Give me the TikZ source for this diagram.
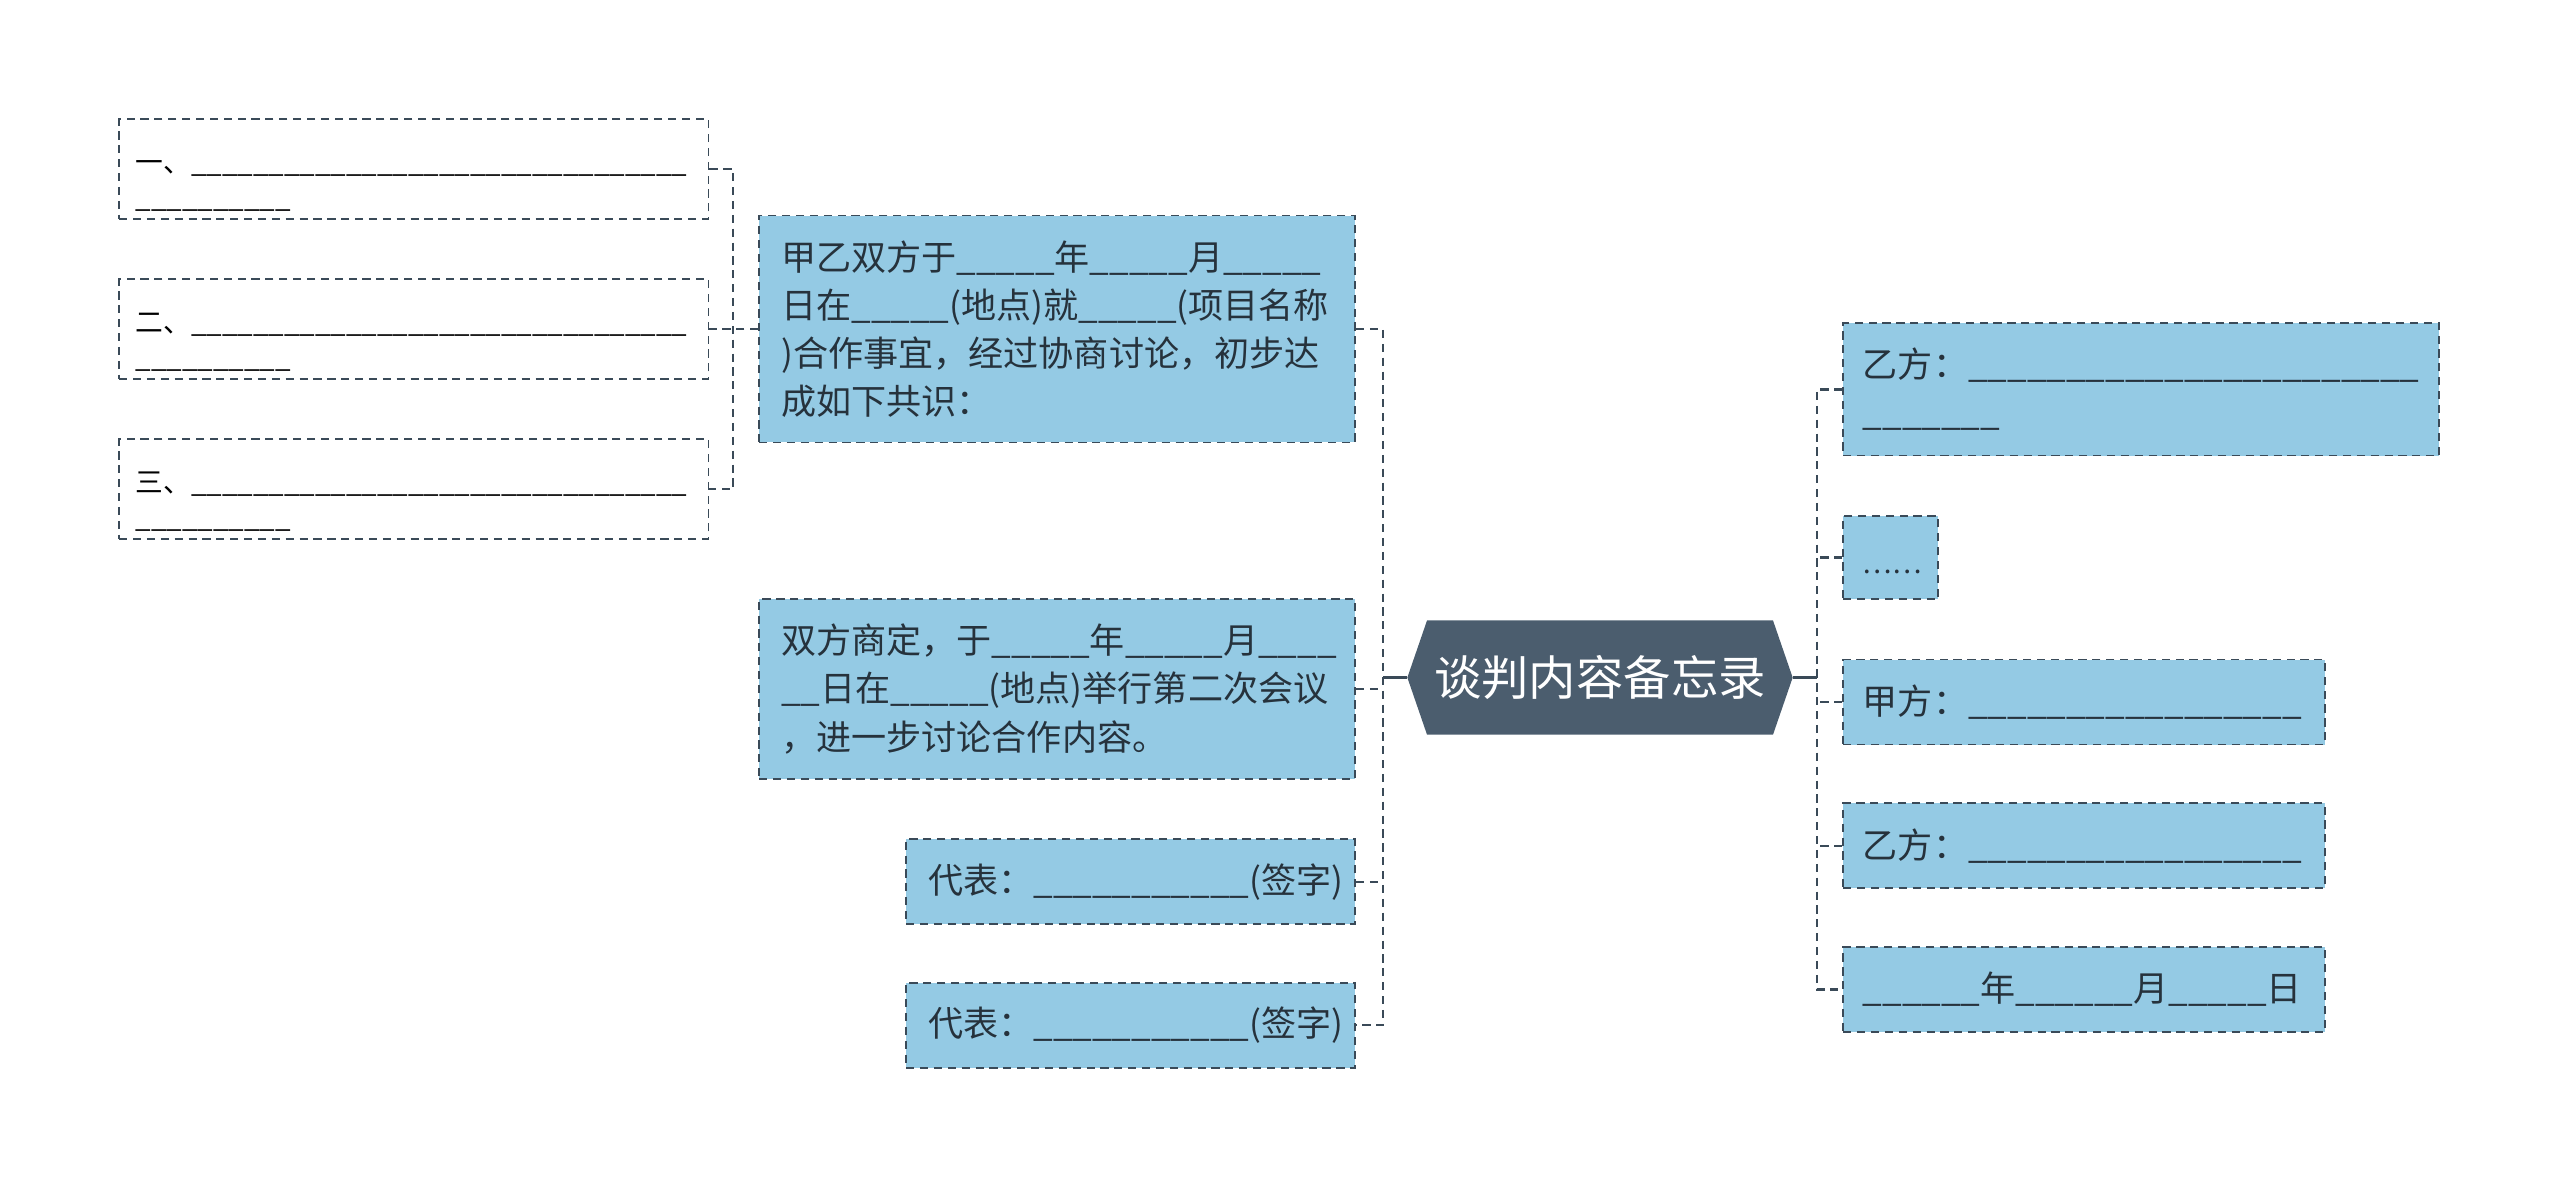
\documentclass[tikz,border=0pt]{standalone}
\usepackage{fontspec}
\setmainfont{Noto Sans CJK SC}
\usetikzlibrary{shapes.symbols}
\definecolor{boxblue}{HTML}{94CAE4}
\definecolor{darkline}{HTML}{3A4A58}
\definecolor{hexfill}{HTML}{4B5D6E}
\definecolor{txt}{HTML}{26323C}
\ExplSyntaxOn
\cs_new:Npn \myblank #1 { \prg_replicate:nn {#1} {\_} }
\ExplSyntaxOff
\newcommand\bodyfont{\fontsize{21.5}{29.5}\selectfont}
\newcommand\smallfont{\fontsize{17}{21.8}\selectfont}
\newcommand\toppad{\rule{0pt}{28pt}}
\begin{document}
\begin{tikzpicture}[x=1pt,y=-1pt,
  box/.style={draw=darkline, line width=1.1pt, dash pattern=on 5pt off 3.5pt,
    fill=boxblue, text=txt, inner ysep=0pt, align=left, anchor=center, font=\bodyfont},
  wbox/.style={box, fill=white, font=\smallfont, text=black},
  conn/.style={draw=darkline, line width=1.4pt, dash pattern=on 5pt off 3.5pt},
  solidconn/.style={draw=darkline, line width=1.6pt}]
\useasboundingbox (0,0) rectangle (1568,728);

% left boxes
\node[wbox, text width=341pt, inner xsep=10pt, minimum height=61pt] (L1) at (253.5,103.5)
  {\toppad 一、\myblank{32}\\\myblank{10}};
\node[wbox, text width=341pt, inner xsep=10pt, minimum height=61pt] (L2) at (253.5,201.5)
  {\toppad 二、\myblank{32}\\\myblank{10}};
\node[wbox, text width=341pt, inner xsep=10pt, minimum height=61pt] (L3) at (253.5,299.5)
  {\toppad 三、\myblank{32}\\\myblank{10}};

% middle boxes
\node[box, text width=338pt, inner xsep=13.5pt, minimum height=139pt] (A) at (647.5,201.5)
  {甲乙双方于\myblank{5}年\myblank{5}月\myblank{5}\\
   日在\myblank{5}(地点)就\myblank{5}(项目名称\\
   )合作事宜，经过协商讨论，初步达\\
   成如下共识：};
\node[box, text width=338pt, inner xsep=13.5pt, minimum height=110pt] (B) at (647.5,422)
  {双方商定，于\myblank{5}年\myblank{5}月\myblank{4}\\
   \myblank{2}日在\myblank{5}(地点)举行第二次会议\\
   ，进一步讨论合作内容。};
\node[box, text width=248pt, inner xsep=13.5pt, minimum height=52pt] (C) at (692.5,540)
  {代表：\myblank{11}(签字)};
\node[box, text width=248pt, inner xsep=13.5pt, minimum height=52pt] (D) at (692.5,628)
  {代表：\myblank{11}(签字)};

% center
\node[signal, signal to=west and east, signal pointer angle=142, fill=hexfill,
  text=white, minimum width=236pt, minimum height=70pt, inner sep=0pt,
  font=\fontsize{29}{34}\selectfont] (ctr) at (980,415) {谈判内容备忘录};

% right boxes
\node[box, text width=341pt, inner xsep=12pt, minimum height=81pt] (E) at (1311.5,238.5)
  {乙方：\myblank{23}\\\myblank{7}};
\node[box, text width=34pt, inner xsep=12pt, minimum height=51pt] (F) at (1158,341.5)
  {\fontsize{17}{20}\selectfont\rule{0pt}{20pt}……};
\node[box, text width=271pt, inner xsep=12pt, minimum height=52pt] (G) at (1276.5,430)
  {甲方：\myblank{17}};
\node[box, text width=271pt, inner xsep=12pt, minimum height=52pt] (H) at (1276.5,518)
  {乙方：\myblank{17}};
\node[box, text width=271pt, inner xsep=12pt, minimum height=52pt] (I) at (1276.5,606)
  {\myblank{6}年\myblank{6}月\myblank{5}日};

% connectors
\coordinate (jl) at (449,202);
\coordinate (jc) at (847,415);
\coordinate (jr) at (1113,415);

\draw[conn] (A.west) -- (L2.east);
\draw[conn] (L1.east) -- (L1.east -| jl) -- (L3.east -| jl) -- (L3.east);

\draw[solidconn] (ctr.west) -- (jc);
\draw[conn] (A.east) -- (A.east -| jc) -- (D.east -| jc) -- (D.east);
\draw[conn] (B.east) -- (B.east -| jc);
\draw[conn] (C.east) -- (C.east -| jc);

\draw[solidconn] (ctr.east) -- (jr);
\draw[conn] (E.west) -- (E.west -| jr) -- (I.west -| jr) -- (I.west);
\draw[conn] (F.west) -- (F.west -| jr);
\draw[conn] (G.west) -- (G.west -| jr);
\draw[conn] (H.west) -- (H.west -| jr);
\end{tikzpicture}
\end{document}
